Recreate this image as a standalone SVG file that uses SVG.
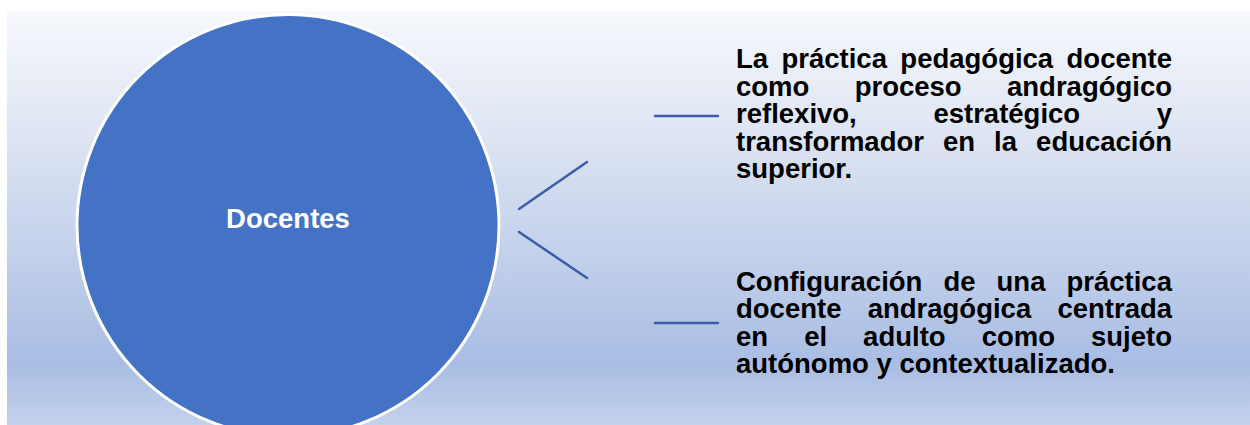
<svg xmlns="http://www.w3.org/2000/svg" width="1250" height="425" viewBox="0 0 1250 425">
  <defs>
    <linearGradient id="bg" x1="0" y1="0" x2="0" y2="1">
      <stop offset="0" stop-color="#F6F8FC"/>
      <stop offset="0.25" stop-color="#E2E8F4"/>
      <stop offset="0.55" stop-color="#C6D3EC"/>
      <stop offset="0.85" stop-color="#A9BDE3"/>
      <stop offset="1" stop-color="#C3D2EC"/>
    </linearGradient>
    <style>
      .conn { stroke: #3B5DA8; stroke-width: 2.5; fill: none; stroke-linecap: round; }
      .body { font-family: "Liberation Sans", Arial, sans-serif; font-weight: bold; font-size: 27.5px; fill: #000000; }
      .title { font-family: "Liberation Sans", Arial, sans-serif; font-weight: bold; font-size: 27.5px; fill: #FFFFFF; }
    </style>
  </defs>
  <rect x="0" y="0" width="1250" height="425" fill="#FFFFFF"/>
  <rect x="7" y="11" width="1243" height="414" fill="url(#bg)"/>

  <g id="node-docentes">
    <circle cx="288" cy="225.5" r="211" fill="#4472C4" stroke="#FFFFFF" stroke-width="3"/>
    <text class="title" x="288" y="228" text-anchor="middle">Docentes</text>
  </g>

  <g id="connectors">
    <line class="conn" x1="519" y1="209" x2="587" y2="162"/>
    <line class="conn" x1="519" y1="232" x2="587" y2="278"/>
    <line class="conn" x1="655" y1="116" x2="718" y2="116"/>
    <line class="conn" x1="655" y1="323" x2="718" y2="323"/>
  </g>

  <g id="node-practica-reflexiva">
    <text class="body" x="736" y="68" word-spacing="5.75">La práctica pedagógica docente</text>
    <text class="body" x="736" y="95.5" word-spacing="37.7">como proceso andragógico</text>
    <text class="body" x="736" y="123" word-spacing="69">reflexivo, estratégico y</text>
    <text class="body" x="736" y="150.5" word-spacing="11.4">transformador en la educación</text>
    <text class="body" x="736" y="178">superior.</text>
  </g>

  <g id="node-configuracion">
    <text class="body" x="736" y="290.5" word-spacing="13.4">Configuración de una práctica</text>
    <text class="body" x="736" y="318" word-spacing="18.6">docente andragógica centrada</text>
    <text class="body" x="736" y="345.5" word-spacing="28.4">en el adulto como sujeto</text>
    <text class="body" x="736" y="373">autónomo y contextualizado.</text>
  </g>
</svg>
